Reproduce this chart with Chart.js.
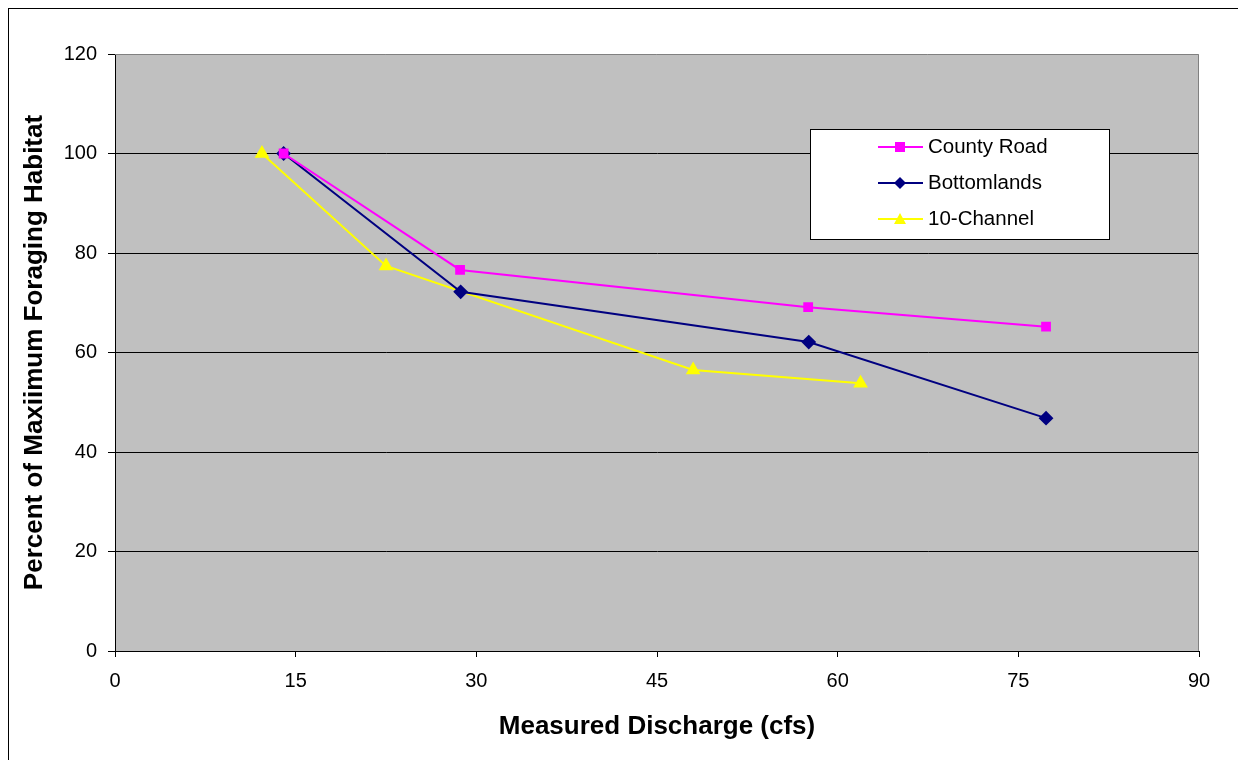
<!DOCTYPE html>
<html>
<head>
<meta charset="utf-8">
<script src="https://cdn.jsdelivr.net/npm/chart.js@4.4.0/dist/chart.umd.min.js"></script>
<style>
  html, body { margin: 0; padding: 0; background: #ffffff; }
  #wrap { position: relative; width: 1238px; height: 760px; }
  canvas { display: block; }
</style>
</head>
<body>
<div id="wrap"><canvas id="c" width="1238" height="760"></canvas></div>
<script>
// ---- Data ----
const seriesNames = ["County Road", "Bottomlands", "10-Channel"];
const countyRoadX = [14.0, 28.65, 57.55, 77.3];
const countyRoadY = [100, 76.6, 69.1, 65.2];
const bottomlandsX = [14.0, 28.7, 57.6, 77.3];
const bottomlandsY = [100, 72.2, 62.1, 46.8];
const channelX = [12.2, 22.5, 48.0, 61.9];
const channelY = [100, 77.4, 56.5, 53.8];
const xTicks = [0, 15, 30, 45, 60, 75, 90];
const yTicks = [0, 20, 40, 60, 80, 100, 120];
const xTitle = "Measured Discharge (cfs)";
const yTitle = "Percent of Maxiimum Foraging Habitat";

const FONT = "'Liberation Sans', Arial, Helvetica, sans-serif";

function pts(xs, ys) { return xs.map((x, i) => ({ x: x, y: ys[i] })); }

const plotBg = {
  id: 'plotBg',
  beforeDraw(chart) {
    const { ctx, chartArea: a } = chart;
    ctx.save();
    ctx.strokeStyle = '#000000';
    ctx.lineWidth = 1;
    ctx.strokeRect(8.5, 8.5, 1400, 1000);
    ctx.fillStyle = '#C0C0C0';
    ctx.fillRect(a.left, a.top, a.right - a.left, a.bottom - a.top);
    ctx.restore();
  },
  afterDatasetsDraw(chart) {
    const { ctx, chartArea: a } = chart;
    ctx.save();
    ctx.strokeStyle = '#808080';
    ctx.lineWidth = 1;
    ctx.beginPath();
    ctx.moveTo(a.left, a.top + 0.5);
    ctx.lineTo(a.right - 0.5, a.top + 0.5);
    ctx.lineTo(a.right - 0.5, a.bottom);
    ctx.stroke();
    ctx.restore();
  }
};

const customLegend = {
  id: 'customLegend',
  afterDraw(chart) {
    const { ctx } = chart;
    const bx = 810.5, by = 129.5, bw = 299, bh = 110;
    ctx.save();
    ctx.fillStyle = '#ffffff';
    ctx.fillRect(bx, by, bw, bh);
    ctx.strokeStyle = '#000000';
    ctx.lineWidth = 1;
    ctx.strokeRect(bx, by, bw, bh);
    const rowY = [147, 183, 219];
    chart.data.datasets.forEach((ds, i) => {
      const y = rowY[i];
      ctx.strokeStyle = ds.borderColor;
      ctx.lineWidth = 2;
      ctx.beginPath();
      ctx.moveTo(878, y);
      ctx.lineTo(923, y);
      ctx.stroke();
      const cx = 900;
      ctx.fillStyle = ds.pointBackgroundColor;
      ctx.beginPath();
      if (ds.pointStyle === 'rect') {
        ctx.rect(cx - 5, y - 5, 10, 10);
      } else if (ds.pointStyle === 'rectRot') {
        ctx.moveTo(cx, y - 6); ctx.lineTo(cx + 6, y); ctx.lineTo(cx, y + 6); ctx.lineTo(cx - 6, y); ctx.closePath();
      } else {
        ctx.moveTo(cx, y - 6); ctx.lineTo(cx + 6, y + 5); ctx.lineTo(cx - 6, y + 5); ctx.closePath();
      }
      ctx.fill();
      ctx.fillStyle = '#000000';
      ctx.font = '20.5px ' + FONT;
      ctx.textBaseline = 'middle';
      ctx.textAlign = 'left';
      ctx.fillText(ds.label, 928, y);
    });
    ctx.restore();
  }
};

const ctx = document.getElementById('c').getContext('2d');
new Chart(ctx, {
  type: 'line',
  data: {
    datasets: [
      {
        label: seriesNames[0],
        data: pts(countyRoadX, countyRoadY),
        borderColor: '#FF00FF',
        backgroundColor: '#FF00FF',
        pointBackgroundColor: '#FF00FF',
        pointBorderColor: '#FF00FF',
        pointStyle: 'rect',
        pointRadius: 5.5,
        borderWidth: 2,
        tension: 0
      },
      {
        label: seriesNames[1],
        data: pts(bottomlandsX, bottomlandsY),
        borderColor: '#000080',
        backgroundColor: '#000080',
        pointBackgroundColor: '#000080',
        pointBorderColor: '#000080',
        pointStyle: 'rectRot',
        pointRadius: 6,
        borderWidth: 2,
        tension: 0
      },
      {
        label: seriesNames[2],
        data: pts(channelX, channelY),
        borderColor: '#FFFF00',
        backgroundColor: '#FFFF00',
        pointBackgroundColor: '#FFFF00',
        pointBorderColor: '#FFFF00',
        pointStyle: 'triangle',
        pointRadius: 6.5,
        borderWidth: 2,
        tension: 0
      }
    ]
  },
  options: {
    responsive: false,
    animation: false,
    layout: { padding: { left: 8, top: 54, right: 39, bottom: 0 } },
    plugins: {
      legend: { display: false },
      tooltip: { enabled: false }
    },
    scales: {
      x: {
        type: 'linear',
        min: 0, max: 90,
        afterBuildTicks(scale) { scale.ticks = xTicks.map(v => ({ value: v })); },
        afterFit(scale) { scale.height = 760 - 651; },
        grid: { drawOnChartArea: false, drawTicks: true, tickLength: 6, color: '#000000', tickColor: '#000000' },
        border: { display: true, color: '#000000', width: 1 },
        ticks: { color: '#000000', font: { family: FONT, size: 20 }, padding: 12, maxRotation: 0 },
        title: { display: true, text: xTitle, color: '#000000', font: { family: FONT, size: 26, weight: 'bold' }, padding: { top: 0, bottom: 18 } }
      },
      y: {
        type: 'linear',
        min: 0, max: 120,
        afterBuildTicks(scale) { scale.ticks = yTicks.map(v => ({ value: v })); },
        afterFit(scale) { scale.width = 115 - 8; },
        grid: {
          drawOnChartArea: true, drawTicks: true, tickLength: 7,
          color: (c) => (c.tick && c.tick.value === 120) ? 'rgba(0,0,0,0)' : '#000000',
          tickColor: '#000000'
        },
        border: { display: true, color: '#000000', width: 1 },
        ticks: { color: '#000000', font: { family: FONT, size: 20 }, padding: 11 },
        title: { display: true, text: yTitle, color: '#000000', font: { family: FONT, size: 26, weight: 'bold' }, padding: { top: 11, bottom: 0 } }
      }
    }
  },
  plugins: [plotBg, customLegend]
});
</script>
</body>
</html>
